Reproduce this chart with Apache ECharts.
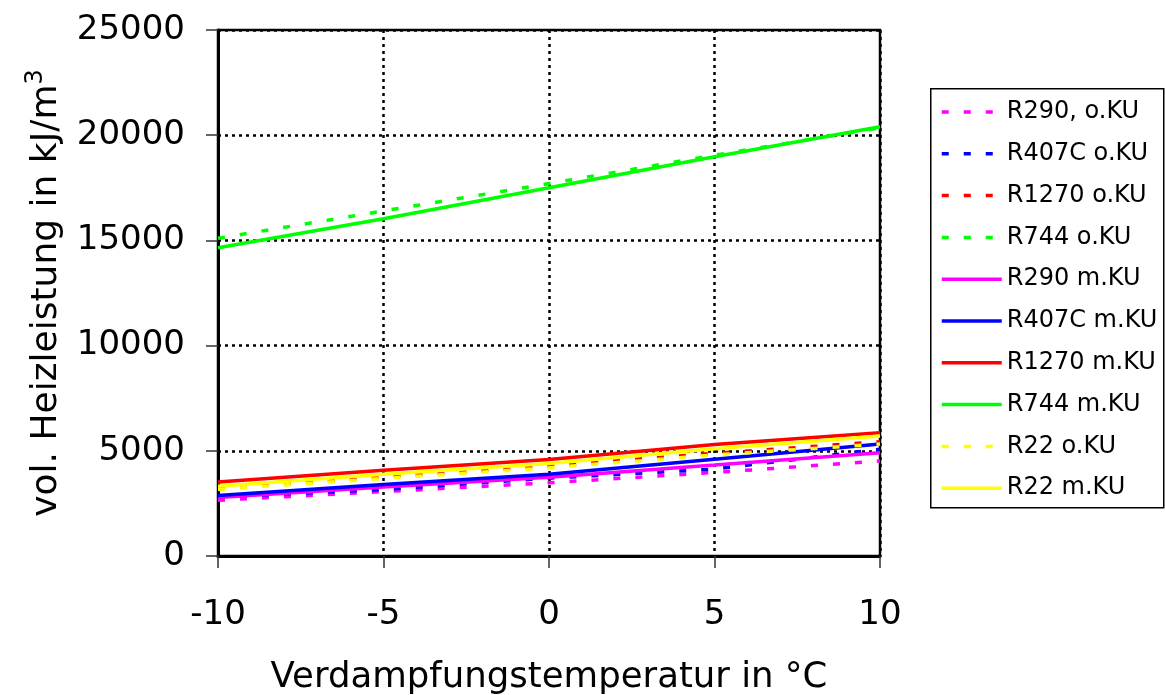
<!DOCTYPE html>
<html>
<head>
<meta charset="utf-8">
<script src="https://cdn.jsdelivr.net/npm/echarts@6/dist/echarts.min.js"></script>
<style>html,body{margin:0;padding:0;background:#fff}#c{width:1165px;height:695px}</style>
</head>
<body>
<div id="c"></div>
<script>
var temps = [-10, -5, 0, 5, 10];
var seriesNames = ['R290, o.KU','R407C o.KU','R1270 o.KU','R744 o.KU','R290 m.KU','R407C m.KU','R1270 m.KU','R744 m.KU','R22 o.KU','R22 m.KU'];
var r290_o  = [2650, 3060, 3480, 3970, 4510];
var r407c_o = [2800, 3160, 3700, 4130, 5070];
var r1270_o = [3230, 3760, 4280, 4880, 5430];
var r744_o  = [15100, 16400, 17700, 19050, 20350];
var r290_m  = [2780, 3280, 3740, 4320, 4905];
var r407c_m = [2880, 3400, 3890, 4600, 5320];
var r1270_m = [3520, 4080, 4590, 5300, 5860];
var r744_m  = [14650, 16030, 17500, 18980, 20400];
var r22_o   = [3160, 3690, 4190, 4800, 5320];
var r22_m   = [3320, 3890, 4400, 5100, 5700];
var yTicks = [0, 5000, 10000, 15000, 20000, 25000];
var xTicks = [-10, -5, 0, 5, 10];

var values = [r290_o, r407c_o, r1270_o, r744_o, r290_m, r407c_m, r1270_m, r744_m, r22_o, r22_m];
var colors = ['#FF00FF','#0000FF','#FF0000','#00FF00','#FF00FF','#0000FF','#FF0000','#00FF00','#FFFF00','#FFFF00'];
var dashed = [true,true,true,true,false,false,false,false,true,false];

var FONT = 'DejaVu Sans';
var series = values.map(function(v, i){
  return {
    name: seriesNames[i],
    type: 'line',
    data: temps.map(function(t, j){ return [t, v[j]]; }),
    showSymbol: false,
    symbol: 'none',
    smooth: false,
    animation: false,
    lineStyle: { color: colors[i], width: 3.5, type: dashed[i] ? [7, 15] : 'solid' },
    itemStyle: { color: colors[i] },
    z: 3
  };
});

var chart = echarts.init(document.getElementById('c'), null, {renderer: 'canvas'});
chart.setOption({
  backgroundColor: '#fff',
  animation: false,
  grid: { left: 218, right: 285, top: 30, bottom: 139, show: true, borderColor: '#000', borderWidth: 2.5,
          backgroundColor: 'transparent', outerBoundsMode: 'none', containLabel: false },
  legend: {
    orient: 'vertical',
    left: 940, top: 100, padding: 0,
    itemWidth: 60, itemHeight: 14, itemGap: 17.8,
    selectedMode: false,
    itemStyle: { opacity: 0 },
    lineStyle: { width: 3.5 },
    textStyle: { fontFamily: FONT, fontSize: 24, color: '#000', lineHeight: 24 },
    data: seriesNames.map(function(n){ return { name: n }; })
  },
  graphic: [{
    type: 'rect', left: 930, top: 88, z: 0,
    shape: { width: 233, height: 419 },
    style: { fill: '#fff', stroke: '#000', lineWidth: 1.5 }
  }],
  xAxis: {
    type: 'value', min: -10, max: 10, interval: 5,
    name: 'Verdampfungstemperatur in °C', nameLocation: 'middle', nameGap: 104,
    nameTextStyle: { fontFamily: FONT, fontSize: 35.5, color: '#000' },
    axisLine: { show: true, onZero: false, lineStyle: { color: '#000', width: 3 } },
    axisTick: { show: true, length: 12, lineStyle: { color: '#333', width: 1.5 } },
    axisLabel: { fontFamily: FONT, fontSize: 34, color: '#000', margin: 42,
      formatter: function(v){ return xTicks.indexOf(v) >= 0 ? String(v) : ''; } },
    splitLine: { show: true, lineStyle: { color: '#000', width: 2.5, type: [3, 4] } }
  },
  yAxis: {
    type: 'value', min: 0, max: 25000, interval: 5000,
    name: 'vol. Heizleistung in kJ/m{sup|3}', nameLocation: 'middle', nameGap: 148,
    nameTextStyle: { fontFamily: FONT, fontSize: 36, color: '#000',
      rich: { sup: { fontFamily: FONT, fontSize: 24, color: '#000', verticalAlign: 'top', padding: [0, 0, 22, 0] } } },
    axisLine: { show: true, onZero: false, lineStyle: { color: '#000', width: 3 } },
    axisTick: { show: true, length: 12, lineStyle: { color: '#333', width: 1.5 } },
    axisLabel: { fontFamily: FONT, fontSize: 34, color: '#000', margin: 33,
      formatter: function(v){ return yTicks.indexOf(v) >= 0 ? String(v) : ''; } },
    splitLine: { show: true, lineStyle: { color: '#000', width: 2.5, type: [3, 4] } }
  },
  series: series
});
</script>
</body>
</html>
